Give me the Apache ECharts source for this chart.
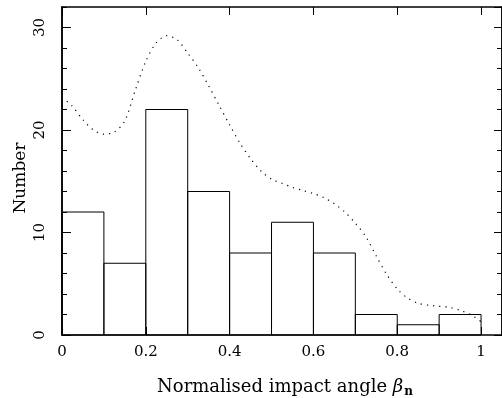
<!DOCTYPE html>
<html>
<head>
<meta charset="utf-8">
<script src="https://cdn.jsdelivr.net/npm/echarts@6/dist/echarts.min.js"></script>
<style>
  html, body { margin: 0; padding: 0; background: #fff; }
  #chart { width: 502px; height: 398px; }
</style>
</head>
<body>
<div id="chart"></div>
<script>
// histogram bins (left edge, right edge) and counts
const binLo = [0, 0.1, 0.2, 0.3, 0.4, 0.5, 0.6, 0.7, 0.8, 0.9];
const binHi = [0.1, 0.2, 0.3, 0.4, 0.5, 0.6, 0.7, 0.8, 0.9, 1.0];
const counts = [12, 7, 22, 14, 8, 11, 8, 2, 1, 2];

// dotted smoothed distribution, read every 0.025
const curveX = [0, 0.025, 0.05, 0.075, 0.1, 0.125, 0.15, 0.175, 0.2, 0.225, 0.25, 0.275, 0.3, 0.325,
  0.35, 0.375, 0.4, 0.425, 0.45, 0.475, 0.5, 0.525, 0.55, 0.575, 0.6, 0.625, 0.65, 0.675, 0.7,
  0.725, 0.75, 0.775, 0.8, 0.825, 0.85, 0.875, 0.9, 0.925, 0.95, 0.975, 1.0];
const curveY = [23.2, 22.3, 21.0, 20.0, 19.6, 19.8, 20.9, 23.9, 26.7, 28.5, 29.2, 28.8, 27.5, 26.1,
  24.3, 22.4, 20.5, 18.7, 17.2, 16.0, 15.2, 14.8, 14.4, 14.1, 13.8, 13.4, 12.8, 12.0, 10.9,
  9.6, 7.7, 5.9, 4.5, 3.6, 3.1, 2.9, 2.8, 2.7, 2.4, 2.0, 1.3];

const font = 'DejaVu Serif';
const chart = echarts.init(document.getElementById('chart'));

const histData = binLo.map((x, i) => [x, binHi[i], counts[i]]);
const curveData = curveX.map((x, i) => [x, curveY[i]]);

const frameLine = { show: true, onZero: false, lineStyle: { color: '#000', width: 1.5 } };
const tickStyle = { color: '#000', width: 1 };

function yAxisDef(pos, interval, len, labels) {
  return {
    type: 'value', position: pos, min: 0, max: 32, interval: interval,
    axisLine: frameLine,
    axisTick: { show: true, inside: true, length: len, lineStyle: tickStyle },
    axisLabel: labels ? {
      show: true, rotate: 90, margin: 14, color: '#000', fontFamily: font, fontSize: 15,
      showMaxLabel: false
    } : { show: false },
    splitLine: { show: false }
  };
}

chart.setOption({
  animation: false,
  grid: { left: 62, top: 7, width: 442, height: 328 },
  xAxis: [
    {
      type: 'value', position: 'bottom', min: 0, max: 1.05, interval: 0.2,
      axisLine: frameLine,
      axisTick: { show: true, inside: true, length: 8, lineStyle: tickStyle },
      axisLabel: { color: '#000', fontFamily: font, fontSize: 15, margin: 10, showMaxLabel: false },
      splitLine: { show: false }
    },
    {
      type: 'value', position: 'top', min: 0, max: 1.05, interval: 0.2,
      axisLine: frameLine,
      axisTick: { show: true, inside: true, length: 8, lineStyle: tickStyle },
      axisLabel: { show: false },
      splitLine: { show: false }
    }
  ],
  yAxis: [
    yAxisDef('left', 10, 9, true),
    yAxisDef('left', 2, 5, false),
    yAxisDef('right', 10, 8, false),
    yAxisDef('right', 2, 5, false)
  ],
  graphic: [
    {
      type: 'text', x: 21, y: 178, rotation: Math.PI / 2,
      style: { text: 'Number', font: '17px "' + font + '"', fill: '#000', align: 'center', verticalAlign: 'middle' }
    },
    {
      type: 'text', x: 285, y: 387,
      style: {
        text: 'Normalised impact angle {b|β}{n|n}',
        font: '18px "' + font + '"', fill: '#000', align: 'center', verticalAlign: 'middle',
        rich: {
          b: { fontFamily: font, fontSize: 18, fontStyle: 'italic', fill: '#000' },
          n: { fontFamily: font, fontSize: 12, fontWeight: 'bold', fill: '#000', padding: [9, 0, 0, 1] }
        }
      }
    }
  ],
  series: [
    {
      type: 'custom',
      xAxisIndex: 0, yAxisIndex: 0,
      data: histData,
      encode: { x: [0, 1], y: 2 },
      renderItem: function (params, api) {
        const p0 = api.coord([api.value(0), api.value(2)]);
        const p1 = api.coord([api.value(1), 0]);
        return {
          type: 'rect',
          shape: { x: p0[0], y: p0[1], width: p1[0] - p0[0], height: p1[1] - p0[1] },
          style: { fill: 'none', stroke: '#000', lineWidth: 1 }
        };
      }
    },
    {
      type: 'line',
      xAxisIndex: 0, yAxisIndex: 0,
      data: curveData,
      smooth: 0.3,
      showSymbol: false,
      lineStyle: { color: '#000', width: 1.2, type: [1.2, 5] }
    }
  ]
});
</script>
</body>
</html>
